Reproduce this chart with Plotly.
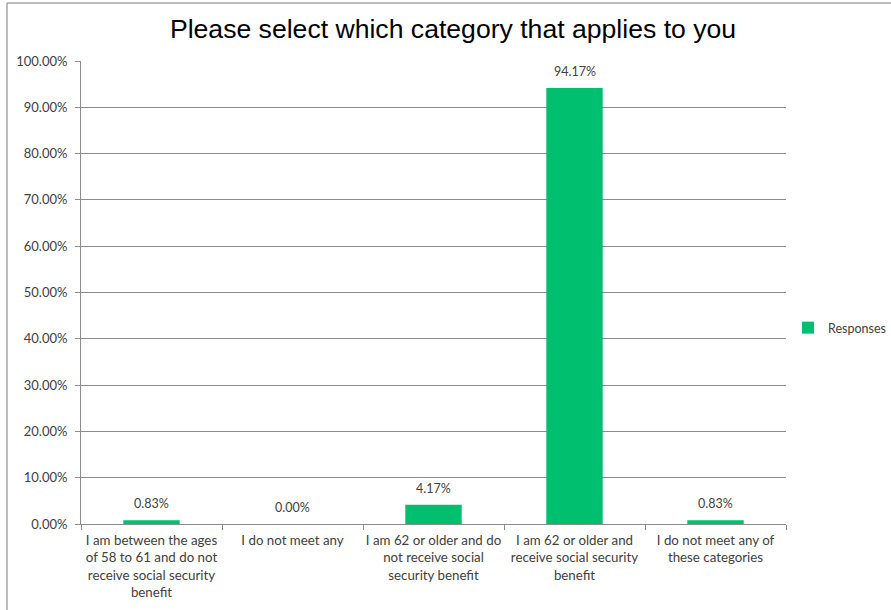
import plotly.graph_objects as go

# Survey responses
categories = [
    "I am between the ages<br>of 58 to 61 and do not<br>receive social security<br>benefit",
    "I do not meet any",
    "I am 62 or older and do<br>not receive social<br>security benefit",
    "I am 62 or older and<br>receive social security<br>benefit",
    "I do not meet any of<br>these categories",
]
responses = [0.0083, 0.0000, 0.0417, 0.9417, 0.0083]
y_ticks = [i / 10 for i in range(11)]

BAR_COLOR = "#00BF6F"
GRID = "#8C8C8C"
TEXT = "#404040"
FONT = "Lato, Open Sans, sans-serif"

fig = go.Figure()
fig.add_trace(go.Bar(
    x=categories,
    y=responses,
    name="Responses",
    marker=dict(color=BAR_COLOR, line=dict(width=0)),
    showlegend=True,
))

# value labels above each bar
for cat, v in zip(categories, responses):
    fig.add_annotation(
        x=cat, y=v, text=f"{v:.2%}", showarrow=False,
        xref="x", yref="y", yanchor="bottom", yshift=7,
        font=dict(family=FONT, size=12.5, color=TEXT),
    )

W, H = 891, 610
L, R, T, B = 81, 105, 61, 86
pw, ph = W - L - R, H - T - B

def px(x):
    return (x - L) / pw

def py(y):
    return (H - B - y) / ph

fig.update_layout(
    width=W, height=H,
    margin=dict(l=L, r=R, t=T, b=B, autoexpand=False),
    paper_bgcolor="white",
    plot_bgcolor="white",
    bargap=0.6,
    title=dict(
        text="Please select which category that applies to you",
        font=dict(family="Liberation Sans, Arial, sans-serif", size=26.6, color="black"),
        x=453 / W, xanchor="center",
        y=1 - 29 / H, yanchor="middle",
    ),
    showlegend=True,
    legend=dict(
        x=px(788), y=py(328), xanchor="left", yanchor="middle",
        font=dict(family=FONT, size=12.5, color=TEXT),
        bgcolor="rgba(0,0,0,0)",
        itemwidth=30,
    ),
    xaxis=dict(
        type="category",
        showline=True, linecolor=GRID, linewidth=1,
        ticks="outside", tickson="boundaries", ticklen=5, tickcolor=GRID,
        tickangle=0,
        ticklabelstandoff=4,
        showgrid=False,
        tickfont=dict(family=FONT, size=13.3, color=TEXT),
    ),
    yaxis=dict(
        range=[0, 1],
        tickvals=y_ticks,
        tickformat=".2%",
        showline=True, linecolor=GRID, linewidth=1,
        ticks="outside", ticklen=5, tickcolor=GRID,
        ticklabelstandoff=5,
        showgrid=True, gridcolor=GRID, gridwidth=1,
        zeroline=False,
        tickfont=dict(family=FONT, size=13, color=TEXT),
    ),
    shapes=[
        # chart frame (left and top edges)
        dict(type="line", xref="paper", yref="paper",
             x0=px(7), x1=px(7), y0=py(3), y1=py(H + 5),
             line=dict(color="#A6A6A6", width=1.5)),
        dict(type="line", xref="paper", yref="paper",
             x0=px(7), x1=px(W + 5), y0=py(3), y1=py(3),
             line=dict(color="#A6A6A6", width=1.5)),
    ],
)

fig.write_html("out.html")
